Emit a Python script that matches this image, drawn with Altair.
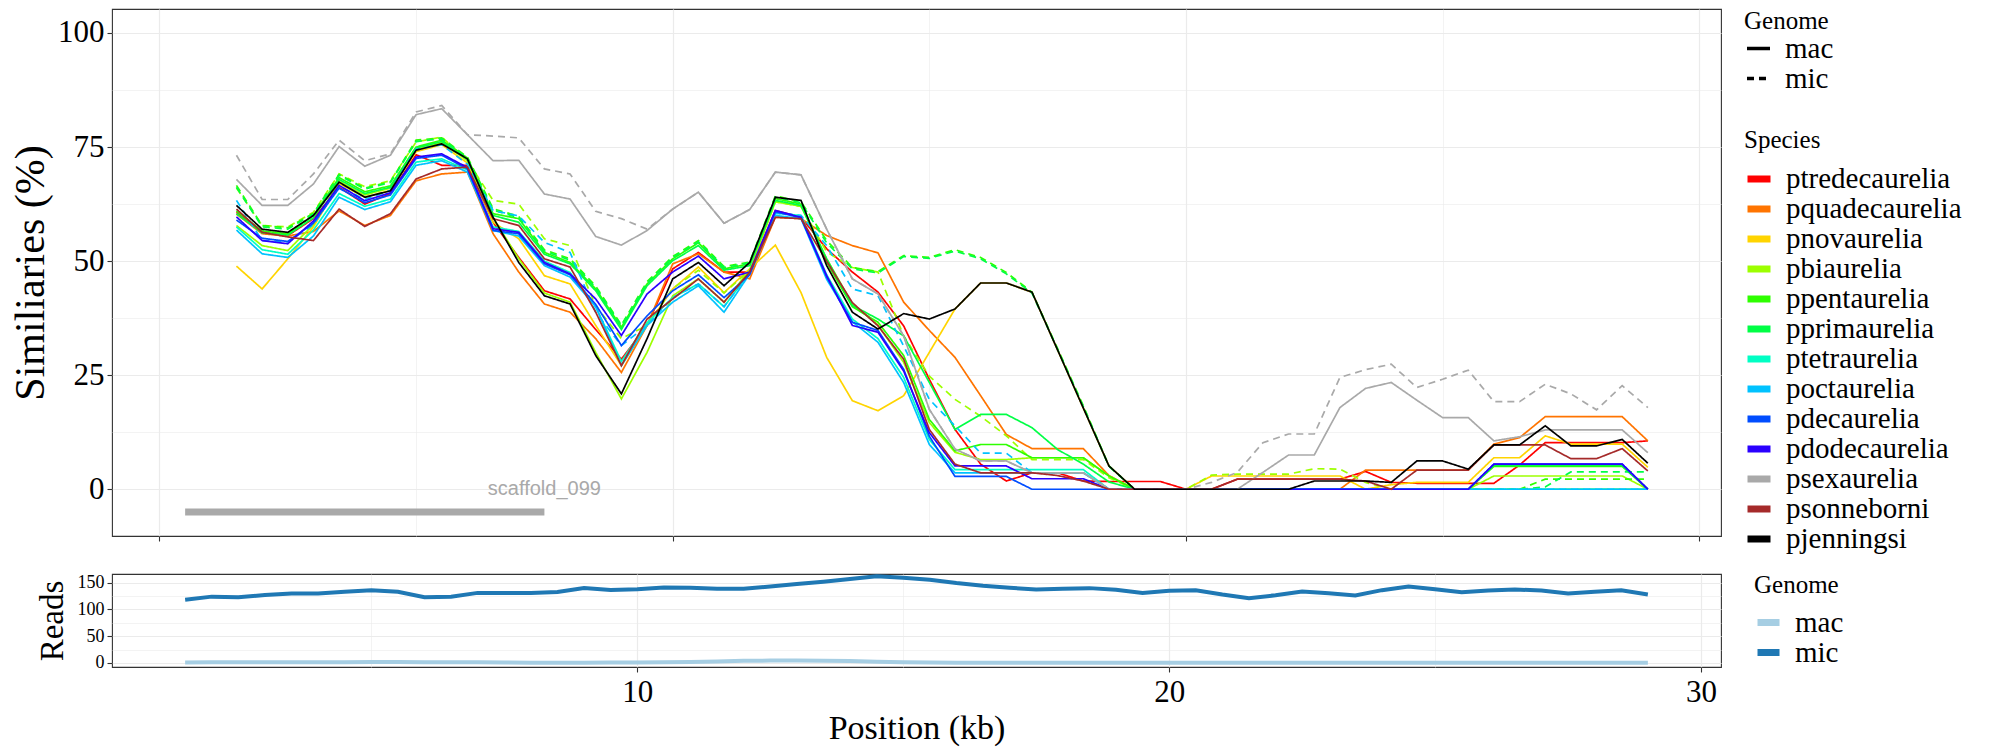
import altair as alt
import pandas as pd

# ---------------- data ----------------
positions = [1.5, 2.0, 2.5, 3.0, 3.5, 4.0, 4.5, 5.0, 5.5, 6.0, 6.5, 7.0, 7.5, 8.0,
             8.5, 9.0, 9.5, 10.0, 10.5, 11.0, 11.5, 12.0, 12.5, 13.0, 13.5, 14.0,
             14.5, 15.0, 15.5, 16.0, 16.5, 17.0, 17.5, 18.0, 18.5, 19.0, 19.5,
             20.0, 20.5, 21.0, 21.5, 22.0, 22.5, 23.0, 23.5, 24.0, 24.5, 25.0,
             25.5, 26.0, 26.5, 27.0, 27.5, 28.0, 28.5, 29.0]

species = ["ptredecaurelia", "pquadecaurelia", "pnovaurelia", "pbiaurelia",
           "ppentaurelia", "pprimaurelia", "ptetraurelia", "poctaurelia",
           "pdecaurelia", "pdodecaurelia", "psexaurelia", "psonneborni",
           "pjenningsi"]
species_colors = ["#FF0000", "#FF7400", "#FFD400", "#9DFF00", "#2EFF00",
                  "#00FF45", "#00FFC4", "#00C2FF", "#004DFF", "#2A00FF",
                  "#A9A9A9", "#A52A2A", "#000000"]

ptredecaurelia_mac = [60.7, 56.3, 55.6, 59.3, 66.2, 62.5, 64.8, 73.3, 71.0, 71.0, 58.5, 50.8, 43.5, 41.7,
                      35.0, 28.5, 35.9, 48.3, 51.9, 47.6, 47.6, 61.1, 59.6, 52.7, 47.6, 43.2,
                      35.8, 24.1, 13.1, 5.5, 1.8, 3.6, 3.6, 1.8, 1.7, 1.7, 1.7,
                      0, 0, 2.2, 2.2, 2.2, 2.2, 2.2, 3.9, 1.5, 1.3, 1.3,
                      1.3, 1.3, 5.3, 10.2, 10.2, 10.2, 10.2, 10.6]
pquadecaurelia_mac = [60.3, 56.0, 55.5, 56.5, 61.0, 57.8, 60.0, 67.6, 69.1, 69.5, 56.0, 47.6, 40.6, 38.8,
                      33.0, 25.6, 35.9, 49.4, 51.6, 47.6, 46.1, 59.6, 59.3, 55.6, 53.4, 51.8,
                      41.0, 34.8, 28.9, 20.5, 12.0, 8.9, 8.9, 8.9, 3.0, 0, 0,
                      0, 0, 0, 0, 0, 0, 0, 4.2, 4.2, 4.2, 4.2,
                      4.2, 9.9, 11.3, 15.9, 15.9, 15.9, 15.9, 10.6]
pnovaurelia_mac = [48.9, 43.9, 50.5, 57.5, 67.0, 64.0, 65.5, 74.0, 75.5, 71.5, 58.5, 54.9, 46.8, 45.0,
                   35.9, 27.1, 35.9, 43.9, 48.7, 43.1, 48.3, 53.5, 43.1, 28.9, 19.4, 17.2,
                   20.5, 30.0, 39.5, 45.2, 45.2, 43.2, 30.5, 17.8, 5.1, 0, 0,
                   0, 2.9, 2.9, 2.9, 2.9, 2.9, 2.9, 0, 1.0, 1.5, 1.5,
                   1.5, 6.9, 6.9, 11.7, 9.9, 9.9, 9.9, 4.8]
pbiaurelia_mac = [57.8, 53.4, 52.3, 58.0, 67.5, 64.5, 66.0, 74.5, 76.0, 72.0, 59.5, 50.5, 43.0, 41.0,
                  30.0, 19.8, 30.0, 42.4, 46.1, 41.0, 48.0, 63.0, 62.0, 50.5, 40.6, 36.0,
                  27.8, 14.6, 8.1, 6.5, 6.5, 6.9, 6.9, 6.9, 2.9, 0, 0,
                  0, 0, 0, 0, 0, 0, 0, 0, 0, 0, 0,
                  0, 2.9, 2.9, 2.9, 2.9, 2.9, 2.9, 0]
pbiaurelia_mic = [66.0, 57.8, 57.5, 60.7, 69.1, 66.3, 67.6, 76.1, 77.2, 72.0, 63.3, 62.5, 54.9, 53.4,
                  40.2, 33.0, 35.9, 44.0, 48.0, 43.0, 48.0, 63.0, 62.0, 52.0, 48.6, 47.6,
                  33.6, 24.8, 19.7, 16.0, 11.7, 6.5, 6.5, 6.5, 2.5, 0, 0,
                  0, 3.1, 3.3, 3.3, 3.3, 4.5, 4.4, 1.5, 0, 0, 0,
                  0, 0, 0, 0, 0, 0, 0, 0]
ppentaurelia_mac = [61.0, 56.6, 56.0, 60.0, 68.3, 65.2, 66.5, 75.0, 76.5, 72.6, 60.4, 59.3, 51.9, 49.7,
                    43.9, 35.5, 45.0, 50.5, 54.0, 48.3, 49.4, 63.7, 62.5, 49.7, 40.0, 36.6,
                    29.3, 15.3, 8.4, 9.8, 9.8, 6.9, 6.9, 6.9, 2.9, 0, 0,
                    0, 0, 0, 0, 0, 0, 0, 0, 0, 0, 0,
                    0, 5.0, 5.0, 5.0, 5.0, 5.0, 5.0, 0]
ppentaurelia_mic = [66.6, 57.8, 57.3, 60.5, 69.0, 66.0, 67.4, 76.5, 77.0, 72.8, 61.5, 59.8, 52.5, 50.5,
                    44.5, 36.0, 45.5, 51.0, 54.5, 48.8, 49.8, 64.3, 63.0, 54.5, 48.6, 47.7,
                    51.2, 50.8, 52.5, 50.8, 47.5, 43.2, 30.8, 18.3, 5.1, 0, 0,
                    0, 0, 0, 0, 0, 0, 0, 0, 0, 0, 0,
                    0, 0, 0, 2.2, 2.2, 2.2, 2.2, 2.2]
pprimaurelia_mac = [60.4, 56.2, 55.7, 59.5, 67.9, 64.8, 66.2, 74.8, 76.2, 72.3, 60.0, 58.5, 51.5, 49.4,
                    43.5, 35.0, 44.6, 50.1, 53.4, 48.0, 49.0, 63.3, 62.2, 50.5, 40.3, 37.3,
                    33.6, 23.4, 13.1, 16.4, 16.4, 13.5, 8.7, 5.5, 1.6, 0, 0,
                    0, 0, 0, 0, 0, 0, 0, 0, 0, 0, 0,
                    0, 5.2, 5.2, 5.2, 5.2, 5.2, 5.2, 0]
pprimaurelia_mic = [66.2, 57.5, 57.0, 60.3, 68.8, 65.8, 67.2, 76.2, 76.8, 72.5, 61.2, 59.5, 52.2, 50.2,
                    44.2, 35.8, 45.2, 50.8, 54.2, 48.6, 49.6, 64.0, 62.8, 54.0, 48.3, 47.4,
                    51.0, 50.6, 52.2, 50.5, 47.2, 43.0, 30.6, 18.1, 5.0, 0, 0,
                    0, 0, 0, 0, 0, 0, 0, 0, 0, 0, 0,
                    0, 0, 0, 0.5, 3.8, 3.8, 3.8, 3.8]
ptetraurelia_mac = [57.5, 52.5, 51.5, 56.8, 64.8, 62.0, 63.6, 71.7, 72.4, 70.0, 57.5, 56.5, 50.0, 47.5,
                    40.0, 28.0, 36.5, 42.0, 45.0, 40.0, 47.5, 60.5, 60.0, 47.0, 37.3, 33.0,
                    24.5, 10.9, 4.3, 4.3, 4.3, 4.3, 4.3, 4.3, 0, 0, 0,
                    0, 0, 0, 0, 0, 0, 0, 0, 0, 0, 0,
                    0, 0, 0, 0, 0, 0, 0, 0]
poctaurelia_mac = [56.8, 51.6, 50.8, 55.5, 64.0, 61.3, 63.0, 71.0, 72.0, 69.5, 56.7, 55.5, 49.0, 46.5,
                   40.0, 27.1, 35.9, 41.0, 44.6, 38.8, 47.2, 60.0, 59.3, 46.0, 36.7, 32.2,
                   23.4, 9.8, 3.6, 3.6, 3.6, 3.6, 3.6, 3.6, 0, 0, 0,
                   0, 0, 0, 0, 0, 0, 0, 0, 0, 0, 0,
                   0, 0, 0, 0, 0, 0, 0, 0]
poctaurelia_mic = [63.3, 54.5, 54.2, 58.0, 66.5, 63.5, 65.5, 74.5, 75.5, 71.2, 61.1, 59.9, 54.1, 51.9,
                   38.8, 31.5, 35.9, 42.0, 45.0, 40.0, 47.5, 60.5, 60.0, 53.4, 43.9, 42.4,
                   31.4, 19.7, 13.9, 7.9, 7.9, 3.6, 3.6, 3.6, 0, 0, 0,
                   0, 0, 0, 0, 0, 0, 0, 0, 0, 0, 0,
                   0, 0, 0, 0, 0, 0, 0, 0]
pdecaurelia_mac = [59.0, 55.0, 54.3, 58.3, 66.0, 62.8, 64.5, 72.5, 73.2, 70.2, 56.7, 56.0, 49.4, 47.0,
                   40.5, 31.5, 38.0, 43.5, 47.0, 42.0, 47.0, 60.8, 59.5, 46.5, 36.6, 34.8,
                   26.3, 11.6, 2.8, 2.8, 2.8, 0, 0, 0, 0, 0, 0,
                   0, 0, 0, 0, 0, 0, 0, 0, 0, 0, 0,
                   0, 5.5, 5.5, 5.5, 5.5, 5.5, 5.5, 0]
pdodecaurelia_mac = [59.7, 54.5, 53.8, 58.8, 66.6, 63.2, 65.0, 72.8, 73.5, 70.5, 57.1, 56.3, 49.7, 47.2,
                     41.7, 33.7, 42.8, 47.6, 51.1, 46.1, 47.6, 61.1, 59.6, 46.8, 35.9, 34.4,
                     25.9, 12.4, 5.1, 5.1, 5.1, 2.3, 2.3, 2.3, 0, 0, 0,
                     0, 0, 0, 0, 0, 0, 0, 0, 0, 0, 0,
                     0, 5.5, 5.5, 5.5, 5.5, 5.5, 5.5, 0]
psexaurelia_mac = [67.9, 62.2, 62.2, 66.9, 75.1, 70.8, 73.2, 82.1, 83.4, 77.7, 72.0, 72.1, 64.7, 63.6,
                   55.4, 53.5, 56.7, 61.4, 65.1, 58.3, 61.3, 69.5, 68.9, 57.0, 46.1, 42.8,
                   33.6, 17.5, 8.8, 6.2, 6.2, 3.6, 3.6, 3.6, 0, 0, 0,
                   0, 0, 0, 3.7, 7.5, 7.5, 17.9, 22.1, 23.4, 19.5, 15.7,
                   15.7, 10.6, 11.5, 13.0, 13.0, 13.0, 13.0, 8.0]
psexaurelia_mic = [73.2, 63.5, 63.5, 69.1, 76.5, 72.0, 73.5, 82.7, 84.1, 77.7, 77.4, 77.0, 70.2, 69.1,
                   60.9, 59.3, 57.0, 61.4, 65.1, 58.3, 61.3, 69.5, 68.9, 57.0, 46.1, 42.8,
                   33.6, 17.5, 8.8, 6.2, 6.2, 3.6, 3.6, 3.6, 0, 0, 0,
                   0, 1.5, 3.7, 10.2, 12.1, 12.1, 24.5, 26.2, 27.4, 22.3, 24.1,
                   26.1, 19.2, 19.2, 23.0, 20.9, 17.4, 22.7, 17.9]
psonneborni_mac = [61.4, 56.3, 55.3, 54.5, 61.4, 57.6, 60.4, 68.0, 70.2, 70.6, 59.3, 57.8, 50.5, 48.7,
                   38.8, 27.1, 37.3, 41.7, 46.1, 41.0, 47.6, 59.6, 59.3, 50.0, 40.9, 35.8,
                   28.5, 13.1, 5.5, 3.6, 3.6, 3.6, 3.0, 1.8, 0, 0, 0,
                   0, 0, 2.2, 2.2, 2.2, 2.2, 2.2, 1.8, 0, 4.2, 4.2,
                   4.2, 9.7, 9.7, 9.7, 6.7, 6.7, 8.9, 4.0]
pjenningsi_mac = [62.2, 57.0, 56.3, 60.0, 67.3, 64.0, 65.4, 74.3, 75.7, 72.4, 59.6, 49.7, 42.4, 40.6,
                  29.3, 20.9, 33.0, 46.1, 49.7, 44.6, 49.7, 64.0, 63.3, 49.0, 38.8, 35.1,
                  38.5, 37.3, 39.5, 45.2, 45.2, 43.2, 30.5, 17.8, 5.1, 0, 0,
                  0, 0, 0, 0, 0, 1.8, 1.8, 1.8, 1.5, 6.2, 6.2,
                  4.4, 9.7, 9.7, 13.9, 9.5, 9.5, 10.9, 5.7]

series_mac = [ptredecaurelia_mac, pquadecaurelia_mac, pnovaurelia_mac, pbiaurelia_mac,
              ppentaurelia_mac, pprimaurelia_mac, ptetraurelia_mac, poctaurelia_mac,
              pdecaurelia_mac, pdodecaurelia_mac, psexaurelia_mac, psonneborni_mac,
              pjenningsi_mac]
series_mic = {"pbiaurelia": pbiaurelia_mic, "ppentaurelia": ppentaurelia_mic,
              "pprimaurelia": pprimaurelia_mic, "poctaurelia": poctaurelia_mic,
              "psexaurelia": psexaurelia_mic}

reads_mac = [1, 1.5, 1.5, 1.5, 1.5, 1.5, 1.5, 2, 2, 1.5, 1.5, 1.5, 1, 0.5,
             0.5, 0.5, 1, 1, 1.5, 2, 3, 4, 4.5, 4.5, 4, 3.5,
             2.5, 1.5, 1, 0.5, 0.5, 0.5, 0.5, 0.5, 0.5, 0.5, 0.5,
             0.5, 0.5, 0.5, 0.5, 0.5, 0.5, 0.5, 0.5, 0.5, 0.5, 0.5,
             0.5, 0.5, 0.5, 0.5, 0.5, 0.5, 0.5, 0.5]
reads_mic = [118, 124, 123, 127, 130, 130, 133, 136, 133, 123, 124, 131, 131, 131,
             132.5, 140, 136.5, 138, 141, 140.5, 138.6, 138.6, 143, 147.5, 152, 157,
             162, 159.5, 155.7, 149.4, 144.3, 140.5, 137.4, 138.6, 139.9, 136.7, 131,
             134.8, 136.1, 127.9, 120.9, 126.6, 133.6, 130.4, 126, 136.1, 143, 138,
             132.3, 135.5, 137.4, 135.5, 129.8, 133, 136.1, 127.9]

scaffold_name = ["scaffold_099"]
scaffold_start = [0.5]
scaffold_end = [7.5]
scaffold_level = [-5]
scaffold_label_level = [0]

# ---------------- tables ----------------
rows = []
for sp, mac in zip(species, series_mac):
    for p, v in zip(positions, mac):
        rows.append({"pos": p, "sim": v, "species": sp, "genome": "mac"})
    if sp in series_mic:
        for p, v in zip(positions, series_mic[sp]):
            rows.append({"pos": p, "sim": v, "species": sp, "genome": "mic"})
df = pd.DataFrame(rows)

bar_df = pd.DataFrame({"pos": scaffold_start, "pos_end": scaffold_end,
                       "sim": scaffold_level})
lab_df = pd.DataFrame({"pos": scaffold_end, "sim": scaffold_label_level,
                       "name": scaffold_name})

reads_rows = []
for p, v in zip(positions, reads_mac):
    reads_rows.append({"pos": p, "reads": v, "genome": "mac"})
for p, v in zip(positions, reads_mic):
    reads_rows.append({"pos": p, "reads": v, "genome": "mic"})
rdf = pd.DataFrame(reads_rows)

SERIF = "Liberation Serif"

def cond(test, a, b):
    return {"condition": {"test": test, "value": a}, "value": b}

x_top = alt.X("pos:Q",
              scale=alt.Scale(domain=[-0.925, 30.425], nice=False, zero=False),
              axis=alt.Axis(values=[0, 5, 10, 15, 20, 25, 30], labels=False, title=None,
                            tickSize=5, domain=False,
                            tickOpacity=cond("datum.value % 10 === 0", 1, 0),
                            gridWidth=cond("datum.value % 10 === 0", 1.2, 0.6)))
y_top = alt.Y("sim:Q",
              scale=alt.Scale(domain=[-10.25, 105.25], nice=False, zero=False),
              axis=alt.Axis(values=[0, 12.5, 25, 37.5, 50, 62.5, 75, 87.5, 100],
                            labelExpr="datum.value % 25 === 0 ? datum.label : ''",
                            tickOpacity=cond("datum.value % 25 === 0", 1, 0),
                            gridWidth=cond("datum.value % 25 === 0", 1.2, 0.6),
                            labelFont=SERIF, labelFontSize=31, tickSize=5, labelPadding=3,
                            domain=False, title="Similiaries (%)", titleFont=SERIF,
                            titleFontSize=42, titleFontWeight="normal", titlePadding=5))

legend_common = dict(symbolType="stroke", labelFont=SERIF, labelFontSize=29,
                     titleFont=SERIF, titleFontSize=25, titleFontWeight="normal",
                     rowPadding=0, labelOffset=12, padding=0, labelLimit=400)

lines = alt.Chart(df).mark_line(strokeWidth=1.7).encode(
    x=x_top, y=y_top,
    color=alt.Color("species:N",
                    scale=alt.Scale(domain=species, range=species_colors),
                    sort=species,
                    legend=alt.Legend(title="Species", orient="none", legendX=1632, legendY=119,
                                      symbolStrokeWidth=7, symbolSize=529, titlePadding=11,
                                      **legend_common)),
    strokeDash=alt.StrokeDash("genome:N",
                              scale=alt.Scale(domain=["mac", "mic"], range=[[1, 0], [7, 5]]),
                              legend=alt.Legend(title="Genome", orient="none", legendX=1632,
                                                legendY=0, symbolStrokeColor="black",
                                                symbolStrokeWidth=3.5, symbolSize=529,
                                                titlePadding=0, **legend_common)),
)

bar = alt.Chart(bar_df).mark_rule(color="#A9A9A9", strokeWidth=7, strokeCap="butt").encode(
    x=x_top, x2="pos_end:Q", y=y_top)

label = alt.Chart(lab_df).mark_text(font="Liberation Sans", fontSize=20, color="#A9A9A9",
                                    align="center", baseline="middle").encode(
    x=x_top, y=y_top, text="name:N")

top = alt.layer(lines, bar, label).properties(width=1609, height=527)

bottom = alt.Chart(rdf).mark_line(strokeWidth=4).encode(
    x=alt.X("pos:Q",
            scale=alt.Scale(domain=[0.125, 30.375], nice=False, zero=False),
            axis=alt.Axis(values=[5, 10, 15, 20, 25, 30],
                          labelExpr="datum.value % 10 === 0 ? datum.label : ''",
                          tickOpacity=cond("datum.value % 10 === 0", 1, 0),
                          gridWidth=cond("datum.value % 10 === 0", 1.2, 0.6),
                          labelFont=SERIF, labelFontSize=31, tickSize=5, labelPadding=5,
                          domain=False, title="Position (kb)", titleFont=SERIF,
                          titleFontSize=34, titleFontWeight="normal", titlePadding=4)),
    y=alt.Y("reads:Q",
            scale=alt.Scale(domain=[-7.5, 166.3], nice=False, zero=False),
            axis=alt.Axis(values=[0, 25, 50, 75, 100, 125, 150],
                          labelExpr="datum.value % 50 === 0 ? datum.label : ''",
                          tickOpacity=cond("datum.value % 50 === 0", 1, 0),
                          gridWidth=cond("datum.value % 50 === 0", 1.2, 0.6),
                          labelFont=SERIF, labelFontSize=18, tickSize=5, labelPadding=3,
                          domain=False, title="Reads", titleFont=SERIF, titleFontSize=33,
                          titleFontWeight="normal", titlePadding=8)),
    color=alt.Color("genome:N",
                    scale=alt.Scale(domain=["mac", "mic"], range=["#A6CEE3", "#1F78B4"]),
                    legend=alt.Legend(title="Genome", orient="none", legendX=1642, legendY=-1,
                                      symbolStrokeWidth=7, symbolSize=484, titlePadding=10,
                                      **legend_common)),
).properties(width=1609, height=93)

chart = alt.vconcat(top, bottom, spacing=12).resolve_scale(
    x="independent", y="independent", color="independent"
).resolve_legend(color="independent").properties(
    padding={"left": 0, "top": 0, "right": 2, "bottom": 2}
).configure_view(stroke="#333333", strokeWidth=1.1).configure_axis(
    labelFont=SERIF, titleFont=SERIF, labelColor="black", titleColor="black",
    titleFontWeight="normal", tickColor="#333333", tickWidth=1.1, gridColor="#EBEBEB"
)

chart.save("out.html", embed_options={"renderer": "svg", "actions": False})
